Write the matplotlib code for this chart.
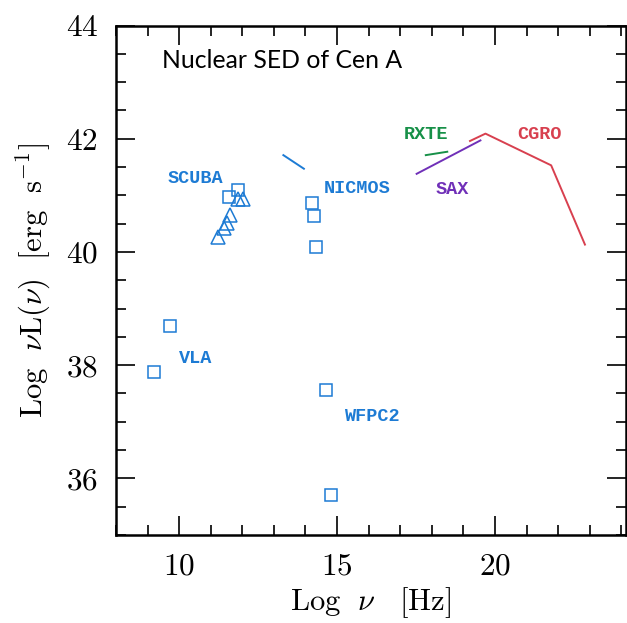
import matplotlib.pyplot as plt
from matplotlib.ticker import MultipleLocator

plt.rcParams['mathtext.fontset'] = 'cm'
plt.rcParams['axes.formatter.use_mathtext'] = True

# log nu [Hz] vs log nuL(nu) [erg/s] for the Cen A nucleus
vla_x = [9.19, 9.72]
vla_y = [37.88, 38.69]
scuba_sq_x = [11.59, 11.87]
scuba_sq_y = [40.97, 41.09]
scuba_tri_x = [11.23, 11.43, 11.53, 11.61, 11.87, 12.03]
scuba_tri_y = [40.26, 40.43, 40.51, 40.65, 40.93, 40.94]
nicmos_x = [14.22, 14.27, 14.34]
nicmos_y = [40.87, 40.63, 40.08]
wfpc2_x = [14.65, 14.81]
wfpc2_y = [37.56, 35.70]
mir_x = [13.30, 13.95]
mir_y = [41.71, 41.47]
rxte_x = [17.81, 18.49]
rxte_y = [41.71, 41.77]
sax_x = [17.52, 19.54]
sax_y = [41.38, 41.97]
cgro_x = [19.21, 19.70, 21.78, 22.85]
cgro_y = [41.96, 42.09, 41.53, 40.13]

blue = '#1d7bd4'
green = '#179048'
purple = '#7030b8'
red = '#d8404f'

labels = ['SCUBA', 'NICMOS', 'VLA', 'WFPC2', 'RXTE', 'SAX', 'CGRO']
label_x = [10.53, 15.63, 10.53, 16.09, 17.81, 18.64, 21.41]
label_y = [41.30, 41.12, 38.11, 37.09, 42.08, 41.10, 42.08]
label_c = [blue, blue, blue, blue, green, purple, red]

fig = plt.figure(figsize=(6.27, 6.23), dpi=100)
ax = fig.add_axes([116 / 627, 88 / 623, 510 / 627, 509.5 / 623])

sq = dict(marker='s', ms=8.5, mfc='none', mec=blue, mew=1.1, ls='none')
ax.plot(vla_x, vla_y, **sq)
ax.plot(scuba_sq_x, scuba_sq_y, **sq)
ax.plot(nicmos_x, nicmos_y, **sq)
ax.plot(wfpc2_x, wfpc2_y, **sq)
ax.plot(scuba_tri_x, scuba_tri_y, marker='^', ms=10, mfc='none', mec=blue,
        mew=1.1, ls='none')

ax.plot(mir_x, mir_y, color=blue, lw=1.4)
ax.plot(rxte_x, rxte_y, color=green, lw=1.4)
ax.plot(sax_x, sax_y, color=purple, lw=1.4)
ax.plot(cgro_x, cgro_y, color=red, lw=1.4)

for t, x, y, c in zip(labels, label_x, label_y, label_c):
    ax.text(x, y, t, color=c, ha='center', va='center', fontsize=13.3,
            family='Liberation Mono', fontweight='bold')

ax.text(9.47, 43.25, 'Nuclear SED of Cen A', fontsize=17.8, family='Lato',
        ha='left', va='baseline')

ax.set_xlim(8, 24.15)
ax.set_ylim(35, 44)
ax.xaxis.set_major_locator(MultipleLocator(5))
ax.xaxis.set_minor_locator(MultipleLocator(1))
ax.yaxis.set_major_locator(MultipleLocator(2))
ax.yaxis.set_minor_locator(MultipleLocator(0.5))
ax.tick_params(which='both', direction='in', top=True, right=True,
               width=1.2, pad=13, labelsize=22.5)
ax.tick_params(which='major', length=14)
ax.tick_params(which='minor', length=7)
for s in ax.spines.values():
    s.set_linewidth(1.8)
for lab in ax.get_xticklabels() + ax.get_yticklabels():
    lab.set_family('cmr10')

ax.set_xlabel(r'$\mathrm{Log}\ \ \nu\ \ \ [\mathrm{Hz}]$', fontsize=22,
              labelpad=3)
ax.set_ylabel(r'$\mathrm{Log}\ \ \nu\mathrm{L}(\nu)\ \ [\mathrm{erg\ \ s^{-1}}]$',
              fontsize=22, labelpad=9)

fig.savefig('out.png', dpi=100)
